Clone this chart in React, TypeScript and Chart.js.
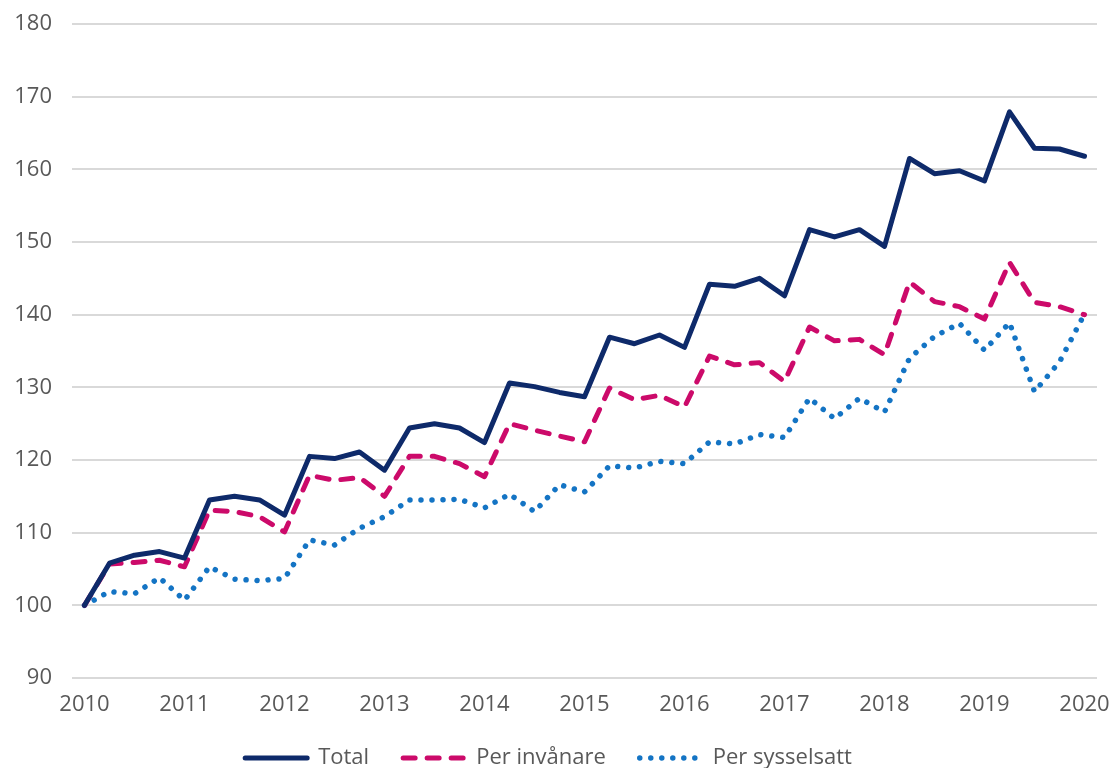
import React, { useEffect, useRef } from "react";
import { Chart, registerables } from "chart.js";

Chart.register(...registerables);

const categories = [
  "2010 K1", "2010 K2", "2010 K3", "2010 K4",
  "2011 K1", "2011 K2", "2011 K3", "2011 K4",
  "2012 K1", "2012 K2", "2012 K3", "2012 K4",
  "2013 K1", "2013 K2", "2013 K3", "2013 K4",
  "2014 K1", "2014 K2", "2014 K3", "2014 K4",
  "2015 K1", "2015 K2", "2015 K3", "2015 K4",
  "2016 K1", "2016 K2", "2016 K3", "2016 K4",
  "2017 K1", "2017 K2", "2017 K3", "2017 K4",
  "2018 K1", "2018 K2", "2018 K3", "2018 K4",
  "2019 K1", "2019 K2", "2019 K3", "2019 K4",
  "2020 K1",
];

const total = [
  100, 105.8, 106.9, 107.4, 106.5, 114.5, 115.0, 114.5, 112.4, 120.5, 120.2,
  121.1, 118.6, 124.4, 125.0, 124.4, 122.4, 130.6, 130.1, 129.3, 128.7, 136.9,
  136.0, 137.2, 135.5, 144.2, 143.9, 145.0, 142.6, 151.7, 150.7, 151.7, 149.4,
  161.5, 159.4, 159.8, 158.4, 167.9, 162.9, 162.8, 161.8,
];

const perInvanare = [
  100, 105.7, 105.9, 106.2, 105.3, 113.1, 112.9, 112.2, 110.1, 117.9, 117.2,
  117.6, 115.0, 120.5, 120.5, 119.5, 117.7, 125.0, 124.1, 123.3, 122.5, 129.9,
  128.3, 128.9, 127.3, 134.3, 133.1, 133.4, 130.8, 138.3, 136.4, 136.6, 134.5,
  144.5, 141.8, 141.1, 139.4, 147.2, 141.7, 141.1, 140.0,
];

const perSysselsatt = [
  100, 101.9, 101.6, 103.8, 100.7, 105.3, 103.6, 103.4, 103.7, 109.0, 108.3,
  110.6, 112.2, 114.5, 114.5, 114.6, 113.4, 115.3, 112.9, 116.6, 115.6, 119.2,
  118.9, 119.8, 119.5, 122.5, 122.2, 123.5, 123.1, 128.5, 125.7, 128.5, 126.6,
  134.0, 137.0, 138.8, 135.1, 138.9, 129.4, 133.5, 140.1,
];

const seriesNames = ["Total", "Per invånare", "Per sysselsatt"];

const FONT = "'Open Sans', 'DejaVu Sans', sans-serif";
const TEXT = "#595959";

export default function App() {
  const ref = useRef<HTMLCanvasElement | null>(null);

  useEffect(() => {
    if (!ref.current) return;
    const chart = new Chart(ref.current, {
      type: "line",
      data: {
        labels: categories,
        datasets: [
          {
            label: seriesNames[0],
            data: total,
            borderColor: "#0E2A6A",
            backgroundColor: "#0E2A6A",
            borderWidth: 5,
            pointRadius: 0,
            tension: 0,
            borderJoinStyle: "round",
            borderCapStyle: "round",
          },
          {
            label: seriesNames[1],
            data: perInvanare,
            borderColor: "#CC0A6A",
            backgroundColor: "#CC0A6A",
            borderWidth: 5,
            borderDash: [12, 12],
            borderCapStyle: "round",
            borderJoinStyle: "round",
            pointRadius: 0,
            tension: 0,
          },
          {
            label: seriesNames[2],
            data: perSysselsatt,
            borderColor: "#1474C4",
            backgroundColor: "#1474C4",
            borderWidth: 5.5,
            borderDash: [0.01, 11],
            borderCapStyle: "round",
            borderJoinStyle: "round",
            pointRadius: 0,
            tension: 0,
          },
        ],
      },
      options: {
        animation: false,
        responsive: true,
        maintainAspectRatio: false,
        layout: { padding: { left: 0, right: 13, top: 24, bottom: 0 } },
        plugins: {
          tooltip: { enabled: false },
          legend: {
            position: "bottom",
            maxHeight: 55,
            labels: {
              usePointStyle: true,
              pointStyle: "line",
              pointStyleWidth: 62,
              padding: 34,
              color: TEXT,
              font: { family: FONT, size: 22 },
              generateLabels: (c: any) => {
                const items = (Chart as any).defaults.plugins.legend.labels.generateLabels(c);
                return items.map((it: any, i: number) => {
                  const ds: any = c.data.datasets[i];
                  return {
                    ...it,
                    pointStyle: "line",
                    lineDash: ds.borderDash || [],
                    lineCap: ds.borderCapStyle || "butt",
                    lineWidth: ds.borderWidth,
                    strokeStyle: ds.borderColor,
                  };
                });
              },
            },
          },
        },
        scales: {
          x: {
            type: "category",
            offset: true,
            grid: { display: false, drawTicks: false },
            border: { display: false },
            afterFit: (s: any) => {
              s.height = 35;
              s.paddingLeft = 0;
              s.paddingRight = 0;
            },
            ticks: {
              autoSkip: false,
              maxRotation: 0,
              minRotation: 0,
              padding: 14,
              color: TEXT,
              font: { family: FONT, size: 22 },
              callback: (_v: any, i: number) =>
                categories[i].endsWith("K1") ? categories[i].slice(0, 4) : "",
            },
          },
          y: {
            min: 90,
            max: 180,
            grid: { color: "#D9D9D9", lineWidth: 2, drawTicks: false },
            border: { display: false },
            afterFit: (s: any) => {
              s.width = 72;
              s.paddingTop = 0;
              s.paddingBottom = 0;
            },
            ticks: {
              stepSize: 10,
              padding: 20,
              color: TEXT,
              font: { family: FONT, size: 22 },
            },
          },
        },
      },
    });
    return () => chart.destroy();
  }, []);

  return (
    <div
      style={{
        position: "fixed",
        left: 0,
        top: 0,
        width: 1110,
        height: 768,
        background: "#fff",
      }}
    >
      <canvas ref={ref} />
    </div>
  );
}
